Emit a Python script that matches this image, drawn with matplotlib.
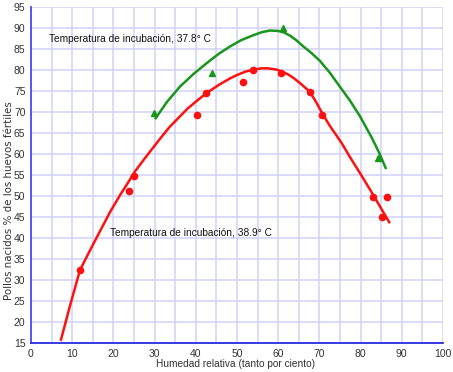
import matplotlib
matplotlib.use('Agg')
import matplotlib.pyplot as plt
import numpy as np

plt.rcParams['font.family'] = ['Liberation Sans', 'DejaVu Sans']

## Puntos medidos (38.9 C, circulos rojos)
red_x = [11.9, 23.9, 25.0, 40.2, 42.5, 51.5, 54.0, 60.8, 67.7, 70.6, 83.1, 85.1, 86.5]
red_y = [32.4, 51.3, 54.8, 69.3, 74.5, 77.2, 80.0, 79.4, 74.8, 69.4, 49.8, 45.1, 49.7]

## Puntos medidos (37.8 C, triangulos verdes)
green_x = [29.8, 43.9, 61.1, 84.3]
green_y = [69.8, 79.2, 90.0, 59.1]

## Curvas ajustadas
red_curve_x = [7.2, 9.5, 11.9, 14.5, 16.9, 19.2, 21.6, 23.5, 25.2, 27.5, 29.7, 31.7, 33.7,
               36.0, 38.0, 40.3, 42.6, 45.5, 48.3, 50.0, 52.0, 54.0, 56.0, 57.5, 59.6, 61.0,
               62.5, 64.0, 65.5, 67.7, 69.3, 70.9, 72.6, 75.4, 77.4, 80.2, 83.1, 85.0, 87.1]
red_curve_y = [15.5, 24.0, 32.4, 37.4, 41.9, 46.2, 50.2, 53.1, 55.8, 58.8, 61.6, 64.1, 66.5,
               68.8, 70.8, 72.7, 74.5, 76.4, 78.0, 78.8, 79.6, 80.1, 80.4, 80.4, 80.1, 79.6,
               78.9, 77.9, 76.7, 74.8, 72.2, 69.3, 66.6, 62.6, 59.3, 54.9, 50.2, 47.0, 43.5]

green_curve_x = [30.1, 33.0, 36.2, 39.5, 42.6, 45.5, 48.3, 51.0, 54.0, 56.0, 58.0, 60.0,
                 61.5, 63.0, 64.5, 66.1, 68.0, 70.1, 72.5, 75.0, 77.5, 79.9, 82.7, 84.5, 86.2]
green_curve_y = [68.3, 72.4, 76.1, 79.1, 81.6, 83.8, 85.6, 87.1, 88.3, 89.0, 89.4, 89.3,
                 88.9, 88.1, 87.0, 85.6, 84.1, 82.2, 79.4, 76.0, 72.6, 68.9, 63.9, 60.3, 56.4]

labels = ['Temperatura de incubación, 37.8° C', 'Temperatura de incubación, 38.9° C']

fig = plt.figure(figsize=(4.53, 3.72), dpi=100)
ax = fig.add_axes([31/453, 1-343/372, 412/453, 336/372])

grid_col = '#d2d2f7'
ax.set_xlim(0, 100)
ax.set_ylim(15, 95)
ax.set_xticks(np.arange(0, 101, 10))
ax.set_yticks(np.arange(15, 96, 5))
ax.set_xticks(np.arange(0, 101, 5), minor=True)
ax.grid(True, which='both', color=grid_col, linewidth=1.1)
ax.set_axisbelow(True)

for s in ['top', 'right']:
    ax.spines[s].set_visible(False)
ax.spines['left'].set_color('#4b4bf0')
ax.spines['left'].set_linewidth(1.3)
ax.spines['bottom'].set_color('#2a2ae0')
ax.spines['bottom'].set_linewidth(1.3)
ax.tick_params(which='both', length=0, labelsize=7.5, labelcolor='#333333', pad=4)

## Curvas y puntos
ax.plot(green_curve_x, green_curve_y, color='#17961b', linewidth=1.8,
        solid_capstyle='butt', solid_joinstyle='round')
ax.plot(red_curve_x, red_curve_y, color='#ff1010', linewidth=1.8,
        solid_capstyle='butt', solid_joinstyle='round')
ax.plot(green_x, green_y, linestyle='none', marker='^', markersize=4.5, color='#17961b')
ax.plot(red_x, red_y, linestyle='none', marker='o', markersize=4.5, color='#ff1010')

ax.text(4.3, 87.5, labels[0], fontsize=7.3, color='#111111', va='center', ha='left')
ax.text(19.2, 41.2, labels[1], fontsize=7.3, color='#111111', va='center', ha='left')

fig.text(0.52, 0.022, 'Humedad relativa (tanto por ciento)', fontsize=7.3, color='#333333',
         ha='center', va='center')
fig.text(0.019, 0.46, 'Pollos nacidos % de los huevos fértiles', fontsize=7.4,
         family='DejaVu Sans', color='#333333', ha='center', va='center', rotation=90)

fig.savefig('out.png', dpi=100, facecolor='white')
